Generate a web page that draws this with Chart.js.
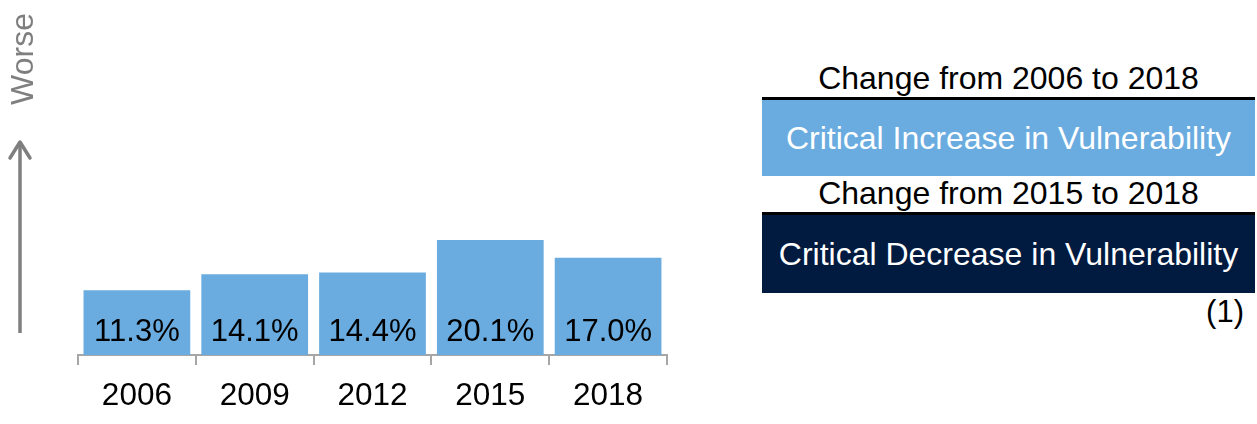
<!DOCTYPE html>
<html>
<head>
<meta charset="utf-8">
<script src="https://cdn.jsdelivr.net/npm/chart.js@4"></script>
<style>
  body { margin: 0; background: #fff; font-family: "Liberation Sans", Arial, sans-serif; }
  #wrap { position: relative; width: 1257px; height: 424px; overflow: hidden; }
  #chart { position: absolute; left: 0; top: 0; }
  #arrow { position: absolute; left: 0; top: 0; }
  .worse { position: absolute; left: 22px; top: 59px; transform: translate(-50%, -50%) rotate(-90deg);
           color: #7f7f7f; font-size: 32px; white-space: nowrap; }
  .panel { position: absolute; left: 762px; width: 493px; text-align: center; white-space: nowrap; }
  .title { font-size: 32px; color: #000; line-height: 36px; }
  .rule { height: 3px; background: #000; }
  .box { font-size: 32px; color: #fff; }
  .note { position: absolute; right: 13px; top: 294px; font-size: 31px; line-height: 36px; }
</style>
</head>
<body>
<div id="wrap">
  <canvas id="chart" width="700" height="424"></canvas>
  <svg id="arrow" width="60" height="424">
    <line x1="20" y1="333" x2="20" y2="142" stroke="#7f7f7f" stroke-width="3.5"/>
    <polyline points="10,158 20,142 30,158" fill="none" stroke="#7f7f7f" stroke-width="3.5" stroke-linecap="round" stroke-linejoin="round"/>
  </svg>
  <div class="worse" id="axisNote"></div>
  <div id="panel"></div>
</div>
<script>
const years = ['2006', '2009', '2012', '2015', '2018'];
const shares = [11.3, 14.1, 14.4, 20.1, 17.0];
const axisNote = 'Worse';
const panelTitles = ['Change from 2006 to 2018', 'Change from 2015 to 2018'];
const panelVerdicts = ['Critical Increase in Vulnerability', 'Critical Decrease in Vulnerability'];
const panelColors = ['#6aacdf', '#001a40'];
const footnote = '(1)';

const barBlue = '#6aacdf';
const fontFamily = '"Liberation Sans", Arial, sans-serif';

document.getElementById('axisNote').textContent = axisNote;

// right-hand summary panel: title, black rule, coloured verdict box
const panel = document.getElementById('panel');
const rows = [
  { rule: 97, boxTop: 100, boxH: 76 },
  { rule: 212, boxTop: 215, boxH: 78 }
];
rows.forEach((r, i) => {
  const t = document.createElement('div');
  t.className = 'panel title';
  t.style.top = (r.rule - 37) + 'px';
  t.textContent = panelTitles[i];
  panel.appendChild(t);

  const rule = document.createElement('div');
  rule.className = 'panel rule';
  rule.style.top = r.rule + 'px';
  panel.appendChild(rule);

  const box = document.createElement('div');
  box.className = 'panel box';
  box.style.top = r.boxTop + 'px';
  box.style.height = r.boxH + 'px';
  box.style.lineHeight = r.boxH + 'px';
  box.style.background = panelColors[i];
  box.textContent = panelVerdicts[i];
  panel.appendChild(box);
});
const note = document.createElement('div');
note.className = 'note';
note.textContent = footnote;
panel.appendChild(note);

const barLabels = {
  id: 'barLabels',
  afterDatasetsDraw(chart) {
    const ctx = chart.ctx;
    const base = chart.scales.y.getPixelForValue(0);
    ctx.save();
    ctx.font = '31px ' + fontFamily;
    ctx.fillStyle = '#000';
    ctx.textAlign = 'center';
    ctx.textBaseline = 'middle';
    chart.getDatasetMeta(0).data.forEach((bar, i) => {
      ctx.fillText(shares[i].toFixed(1) + '%', bar.x, base - 23);
    });
    ctx.restore();
  }
};

new Chart(document.getElementById('chart').getContext('2d'), {
  type: 'bar',
  data: {
    labels: years,
    datasets: [{
      data: shares,
      backgroundColor: barBlue,
      borderWidth: 0,
      barPercentage: 0.906,
      categoryPercentage: 1
    }]
  },
  options: {
    responsive: false,
    animation: false,
    devicePixelRatio: 1,
    layout: { padding: { left: 78, right: 33, top: 126, bottom: 0 } },
    plugins: { legend: { display: false }, tooltip: { enabled: false } },
    scales: {
      x: {
        grid: { offset: true, drawOnChartArea: false, tickLength: 10, color: '#a6a6a6', lineWidth: 2 },
        border: { color: '#a6a6a6', width: 2 },
        ticks: { color: '#000', font: { family: fontFamily, size: 31.5 }, padding: 12, maxRotation: 0 },
        afterFit: s => { s.height = 69; }
      },
      y: { display: false, min: 0, max: 40 }
    }
  },
  plugins: [barLabels]
});
</script>
</body>
</html>
